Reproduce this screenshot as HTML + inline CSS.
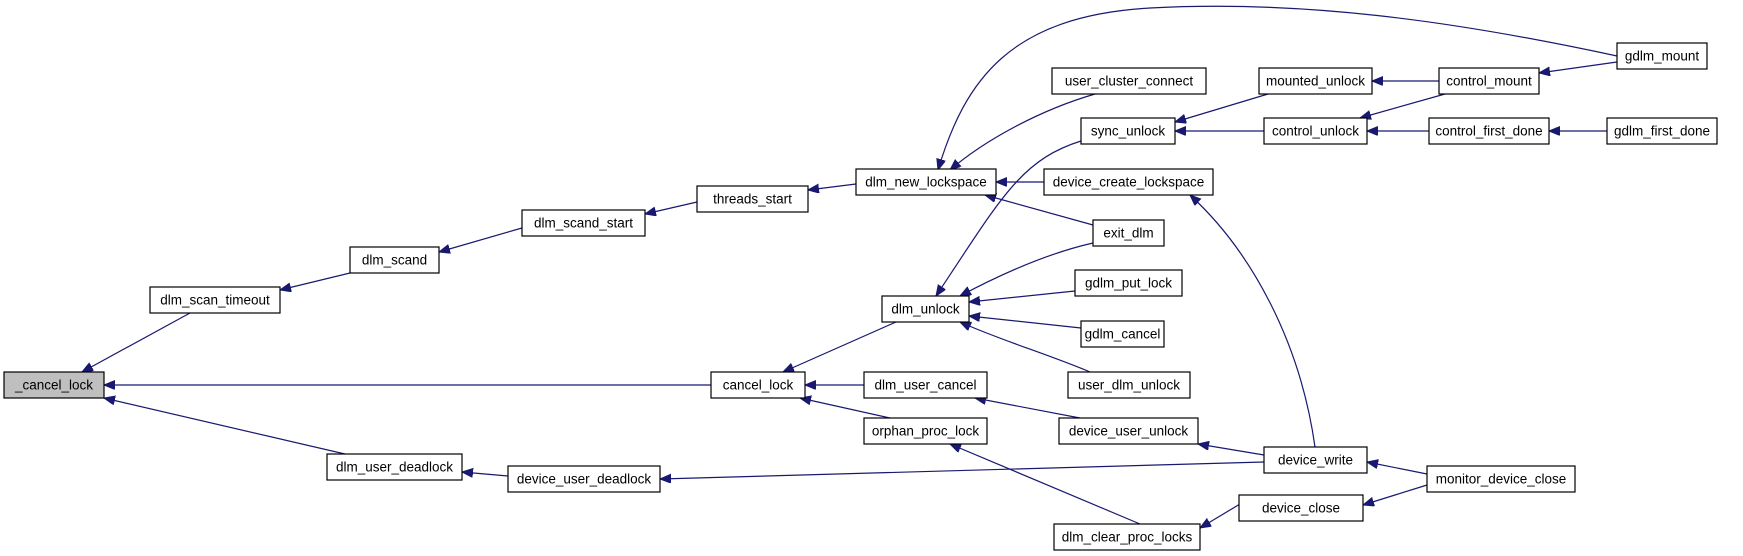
<!DOCTYPE html>
<html><head><meta charset="utf-8"><style>
html,body{margin:0;padding:0;background:#fff;}
svg{display:block;}
text{font-family:"Liberation Sans",sans-serif;font-size:13.5px;fill:#000;text-anchor:middle;dominant-baseline:central;}
rect{fill:#fff;stroke:#000;stroke-width:1.2;}
path.e{fill:none;stroke:#191970;stroke-width:1.2;marker-end:url(#a);}
</style></head><body>
<svg width="1743" height="556" viewBox="0 0 1743 556" xmlns="http://www.w3.org/2000/svg">
<defs><marker id="a" markerUnits="userSpaceOnUse" markerWidth="12" markerHeight="10" refX="11" refY="4.5" orient="auto"><path d="M0,0 L11,4.5 L0,9 z" fill="#191970" stroke="#191970"/></marker></defs>
<path class="e" d="M190,313 L82,372"/>
<path class="e" d="M711,385 L104,385"/>
<path class="e" d="M345,454 L104,398"/>
<path class="e" d="M350,273 L280,290"/>
<path class="e" d="M522,228 L439,252"/>
<path class="e" d="M697,202 L645,214"/>
<path class="e" d="M856,184 L808,190"/>
<path class="e" d="M1617,56 C1450,20 1300,0 1150,8 C1010,16 965,80 938,170"/>
<path class="e" d="M1095,94 C1040,110 985,140 950,170"/>
<path class="e" d="M1044,182 L996,182"/>
<path class="e" d="M1093,225 L985,195"/>
<path class="e" d="M1268,94 L1175,122"/>
<path class="e" d="M1264,131 L1175,131"/>
<path class="e" d="M1439,81 L1372,81"/>
<path class="e" d="M1617,62 L1539,73"/>
<path class="e" d="M1445,94 L1360,118"/>
<path class="e" d="M1429,131 L1367,131"/>
<path class="e" d="M1607,131 L1549,131"/>
<path class="e" d="M1081,141 C1020,160 1000,200 936,296"/>
<path class="e" d="M1093,243 C1040,255 990,280 960,296"/>
<path class="e" d="M1075,291 L969,302"/>
<path class="e" d="M1081,328 L969,316"/>
<path class="e" d="M1090,372 C1050,355 1000,340 960,322"/>
<path class="e" d="M896,322 L783,372"/>
<path class="e" d="M864,385 L805,385"/>
<path class="e" d="M890,418 L800,398"/>
<path class="e" d="M1080,418 L975,398"/>
<path class="e" d="M1264,455 L1198,444"/>
<path class="e" d="M1315,447 C1300,340 1250,250 1190,195"/>
<path class="e" d="M1427,474 L1367,462"/>
<path class="e" d="M1140,524 L950,444"/>
<path class="e" d="M1255,495 L1200,528"/>
<path class="e" d="M1427,485 L1363,505"/>
<path class="e" d="M508,476 L462,472"/>
<path class="e" d="M1264,462 L660,479"/>

<rect x="4" y="372" width="100" height="26" style="fill:#bfbfbf"/><text x="54" y="385">_cancel_lock</text>
<rect x="150" y="287" width="130" height="26"/><text x="215" y="300">dlm_scan_timeout</text>
<rect x="350" y="247" width="89" height="26"/><text x="394.5" y="260">dlm_scand</text>
<rect x="522" y="210" width="123" height="26"/><text x="583.5" y="223">dlm_scand_start</text>
<rect x="697" y="186" width="111" height="26"/><text x="752.5" y="199">threads_start</text>
<rect x="856" y="169" width="140" height="26"/><text x="926" y="182">dlm_new_lockspace</text>
<rect x="1052" y="68" width="154" height="26"/><text x="1129" y="81">user_cluster_connect</text>
<rect x="1259" y="68" width="113" height="26"/><text x="1315.5" y="81">mounted_unlock</text>
<rect x="1439" y="68" width="100" height="26"/><text x="1489" y="81">control_mount</text>
<rect x="1617" y="43" width="90" height="26"/><text x="1662" y="56">gdlm_mount</text>
<rect x="1081" y="118" width="94" height="26"/><text x="1128" y="131">sync_unlock</text>
<rect x="1264" y="118" width="103" height="26"/><text x="1315.5" y="131">control_unlock</text>
<rect x="1429" y="118" width="120" height="26"/><text x="1489" y="131">control_first_done</text>
<rect x="1607" y="118" width="110" height="26"/><text x="1662" y="131">gdlm_first_done</text>
<rect x="1044" y="169" width="169" height="26"/><text x="1128.5" y="182">device_create_lockspace</text>
<rect x="1093" y="220" width="71" height="26"/><text x="1128.5" y="233">exit_dlm</text>
<rect x="1075" y="270" width="107" height="26"/><text x="1128.5" y="283">gdlm_put_lock</text>
<rect x="1081" y="321" width="83" height="26"/><text x="1122.5" y="334">gdlm_cancel</text>
<rect x="1068" y="372" width="122" height="26"/><text x="1129" y="385">user_dlm_unlock</text>
<rect x="882" y="296" width="87" height="26"/><text x="925.5" y="309">dlm_unlock</text>
<rect x="711" y="372" width="94" height="26"/><text x="758" y="385">cancel_lock</text>
<rect x="864" y="372" width="123" height="26"/><text x="925.5" y="385">dlm_user_cancel</text>
<rect x="864" y="418" width="123" height="26"/><text x="925.5" y="431">orphan_proc_lock</text>
<rect x="1059" y="418" width="139" height="26"/><text x="1128.5" y="431">device_user_unlock</text>
<rect x="1264" y="447" width="103" height="26"/><text x="1315.5" y="460">device_write</text>
<rect x="1427" y="466" width="148" height="26"/><text x="1501" y="479">monitor_device_close</text>
<rect x="1239" y="495" width="124" height="26"/><text x="1301" y="508">device_close</text>
<rect x="1054" y="524" width="146" height="26"/><text x="1127" y="537">dlm_clear_proc_locks</text>
<rect x="327" y="454" width="135" height="26"/><text x="394.5" y="467">dlm_user_deadlock</text>
<rect x="508" y="466" width="152" height="26"/><text x="584" y="479">device_user_deadlock</text>
</svg>
</body></html>
